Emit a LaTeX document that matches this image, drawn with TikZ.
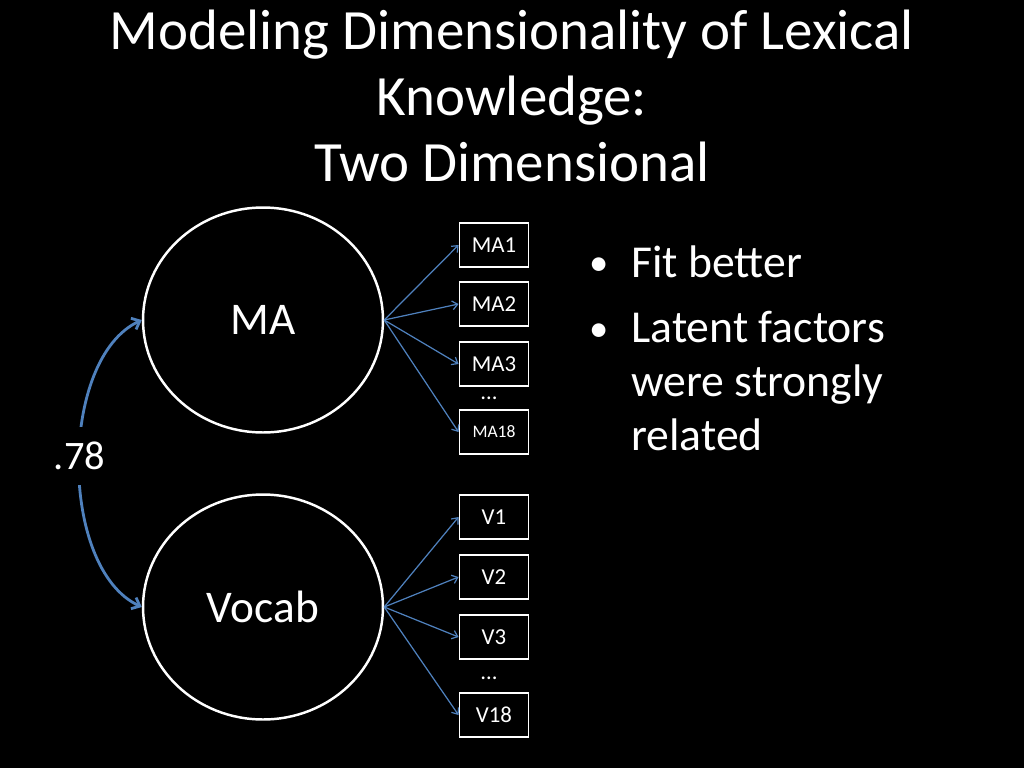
\documentclass[tikz,border=0pt]{standalone}
\usepackage{fontspec}
\setmainfont{Carlito}
\usetikzlibrary{arrows.meta,positioning,shapes.geometric}
\definecolor{pathblue}{RGB}{79,129,189}

\begin{document}
\begin{tikzpicture}[x=0.02cm, y=-0.02cm,
    latent/.style={draw=white, line width=1.4pt, ellipse, minimum width=4.8cm, minimum height=4.5cm, text=white, font=\fontsize{25.8}{30}\selectfont},
    obs/.style={draw=white, line width=1.1pt, minimum width=1.38cm, minimum height=0.88cm, inner sep=0pt, text=white, font=\fontsize{13}{15}\selectfont},
    load/.style={-{Straight Barb[length=3pt, width=5pt]}, pathblue, line width=0.7pt},
    corr/.style={{Straight Barb[length=4pt, width=7pt]}-{Straight Barb[length=4pt, width=7pt]}, pathblue, line width=1.6pt},
    point/.style={text=white, inner sep=0pt, font=\fontsize{26}{30.7}\selectfont, align=left}
]
\fill[black] (0,0) rectangle (1024,768);
\useasboundingbox (0,0) rectangle (1024,768);

\node[text=white, align=center, font=\fontsize{32.4}{37.6}\selectfont] (title) at (512,96) {Modeling Dimensionality of Lexical\\Knowledge:\\Two Dimensional};

% latent factors
\node[latent] (ma) at (263,320) {MA};
\node[latent] (vocab) at (263,607) {Vocab};

% indicators
\node[obs] (ma1) at (494,245) {MA1};
\node[obs] (ma2) at (494,304) {MA2};
\node[obs] (ma3) at (494,364) {MA3};
\node[text=white, font=\fontsize{13}{15}\selectfont] (madots) at (489,398) {…};
\node[obs, font=\fontsize{10}{12}\selectfont] (ma18) at (494,432) {MA18};

\node[obs] (v1) at (494,517) {V1};
\node[obs] (v2) at (494,577) {V2};
\node[obs] (v3) at (494,637) {V3};
\node[text=white, font=\fontsize{13}{15}\selectfont] (vdots) at (489,678) {…};
\node[obs] (v18) at (494,715) {V18};

\draw[load] (ma.east) -- (ma1.west);
\draw[load] (ma.east) -- (ma2.west);
\draw[load] (ma.east) -- (ma3.west);
\draw[load] (ma.east) -- (ma18.west);
\draw[load] (vocab.east) -- (v1.west);
\draw[load] (vocab.east) -- (v2.west);
\draw[load] (vocab.east) -- (v3.west);
\draw[load] (vocab.east) -- (v18.west);

% correlation
\draw[corr] (ma.west) to[out=205, in=155, looseness=0.82]
    node[pos=0.48, fill=black, text=white, minimum height=1.15cm, inner sep=1pt, font=\fontsize{23}{27}\selectfont] (r) {.78} (vocab.west);

% bullets
\node[point, anchor=base, font=\fontsize{22}{26}\selectfont] (dot1) at (599,275) {•};
\node[point, anchor=base west] (fit) at (631,277) {Fit better};
\node[point, anchor=base, font=\fontsize{22}{26}\selectfont] (dot2) at (599,341) {•};
\node[point, anchor=north west] (latent) at (631,311) {Latent factors\\were strongly\\related};
\end{tikzpicture}
\end{document}
